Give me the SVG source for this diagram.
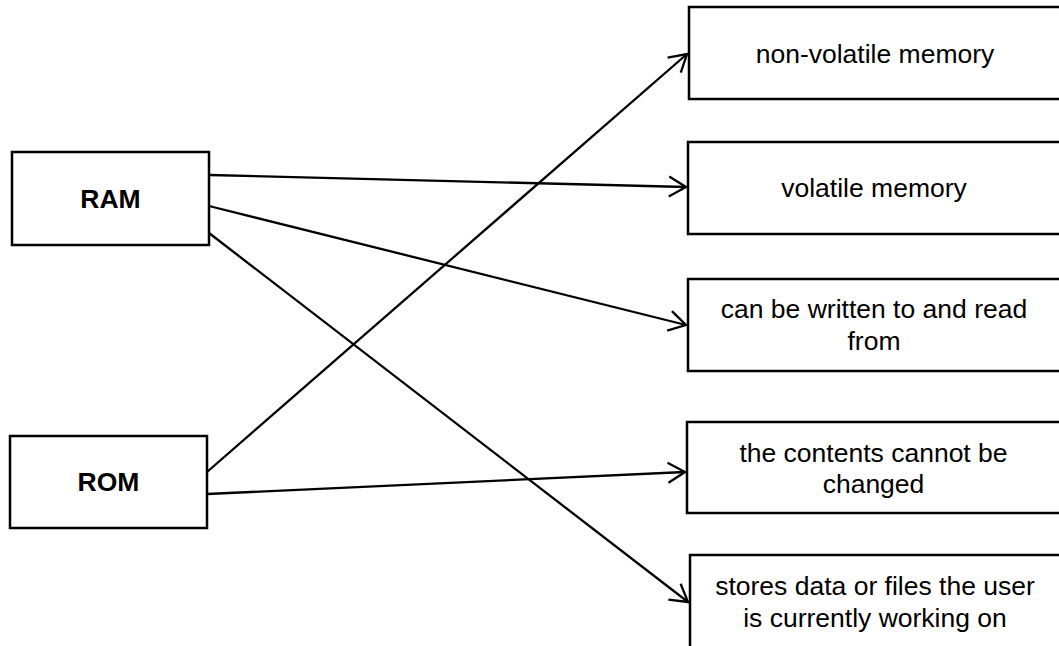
<svg xmlns="http://www.w3.org/2000/svg" width="1059" height="646" viewBox="0 0 1059 646">
<style>
.box{fill:#fff;stroke:#000;stroke-width:2.5}
.t{font-family:"Liberation Sans",Arial,sans-serif;font-size:26.5px;fill:#000;text-anchor:middle}
.b{font-weight:bold}
.c{fill:none;stroke:#000;stroke-width:2.3}
</style>
<defs>
<marker id="arr" markerUnits="userSpaceOnUse" markerWidth="26" markerHeight="26" viewBox="-22 -13 26 26" refX="0" refY="0" orient="auto">
<path d="M-17,-10 L0,0 L-17,10" fill="none" stroke="#000" stroke-width="2.3"/>
</marker>
</defs>
<rect width="1059" height="646" fill="#fff"/>
<g id="connectors">
<line class="c" x1="209" y1="175" x2="686" y2="187" marker-end="url(#arr)"/>
<line class="c" x1="209" y1="206" x2="686" y2="325" marker-end="url(#arr)"/>
<line class="c" x1="209" y1="233" x2="688" y2="602" marker-end="url(#arr)"/>
<line class="c" x1="207" y1="472" x2="687" y2="54" marker-end="url(#arr)"/>
<line class="c" x1="207" y1="494" x2="685" y2="472" marker-end="url(#arr)"/>
</g>
<g id="ram">
<rect class="box" x="12" y="152" width="197" height="93"/>
<text class="t b" x="110.5" y="208">RAM</text>
</g>
<g id="rom">
<rect class="box" x="10" y="436" width="197" height="92"/>
<text class="t b" x="108.5" y="491">ROM</text>
</g>
<g id="nonvolatile">
<rect class="box" x="689" y="7" width="372" height="92"/>
<text class="t" x="875" y="63">non-volatile memory</text>
</g>
<g id="volatile">
<rect class="box" x="688" y="142" width="373" height="92"/>
<text class="t" x="874" y="197">volatile memory</text>
</g>
<g id="readwrite">
<rect class="box" x="688" y="279" width="373" height="92"/>
<text class="t" x="874" y="318">can be written to and read</text>
<text class="t" x="874" y="350">from</text>
</g>
<g id="contents">
<rect class="box" x="687" y="422" width="374" height="91"/>
<text class="t" x="873.5" y="462">the contents cannot be</text>
<text class="t" x="873.5" y="493">changed</text>
</g>
<g id="stores">
<rect class="box" x="690" y="555" width="371" height="100"/>
<text class="t" x="875" y="595">stores data or files the user</text>
<text class="t" x="875" y="627">is currently working on</text>
</g>
</svg>
